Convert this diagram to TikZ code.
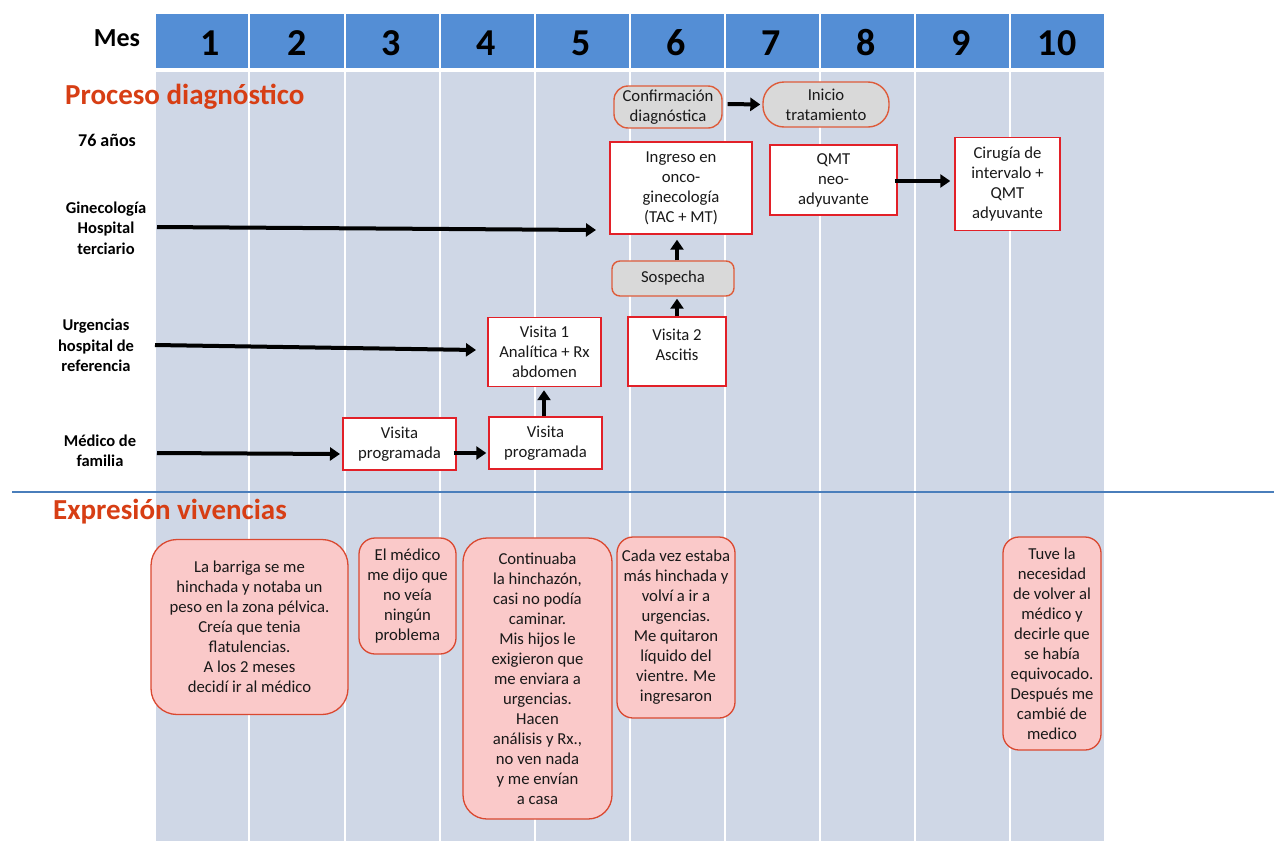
\documentclass[tikz,border=0pt]{standalone}
\usepackage{fontspec}
\setmainfont{Carlito}
\usetikzlibrary{arrows.meta,calc}
\definecolor{hdrblue}{RGB}{84,142,213}
\definecolor{bodyblue}{RGB}{207,215,230}
\definecolor{boxred}{RGB}{226,32,40}
\definecolor{grayfill}{RGB}{217,217,217}
\definecolor{gborder}{RGB}{222,92,58}
\definecolor{pinkfill}{RGB}{250,201,201}
\definecolor{pborder}{RGB}{218,72,48}
\definecolor{titlered}{RGB}{215,62,20}
\definecolor{sepblue}{RGB}{74,126,187}
\definecolor{textdark}{RGB}{25,25,25}
\begin{document}
\begin{tikzpicture}[x=1pt,y=-1pt,
  body/.style={font=\fontsize{16.7}{20}\selectfont, text=textdark, align=center, inner sep=0pt},
  rbox/.style={body, draw=boxred, line width=1.4pt, fill=white},
  gbox/.style={body, draw=gborder, line width=1.4pt, fill=grayfill},
  pbox/.style={body, draw=pborder, line width=1.3pt, fill=pinkfill},
  lbl/.style={font=\bfseries\fontsize{16.5}{20.5}\selectfont, align=center, inner sep=0pt},
  num/.style={font=\bfseries\fontsize{38}{40}\selectfont, inner sep=0pt},
  ttl/.style={font=\bfseries\fontsize{29}{32}\selectfont, text=titlered, inner sep=0pt, anchor=west},
  arr/.style={line width=4pt, -{Triangle[length=10pt,width=13pt]}}
]
\useasboundingbox (0,0) rectangle (1274,841);
\fill[white] (0,0) rectangle (1274,841);
% grid
\foreach \a/\b in {155/249,249/345,345/440,440/535,535/630,630/725,725/820,820/915,915/1010,1010/1105}{
  \fill[hdrblue] (\a+1,14) rectangle (\b-1,68);
  \fill[bodyblue] (\a+1,72) rectangle (\b-1,841);
}
% header
\node[font=\bfseries\fontsize{26}{28}\selectfont, inner sep=0pt] (mes) at (117,38) {Mes};
\foreach \x/\n in {210/1,297/2,391/3,486/4,581/5,676/6,771/7,866/8,961/9,1057/10}{
  \node[num] (h\n) at (\x,43) {\n};
}
% titles
\node[ttl] (t1) at (65,97) {Proceso diagnóstico};
\node[ttl] (t2) at (53,512) {Expresión vivencias};
% separator
\coordinate (s1) at (12,492);
\coordinate (s2) at (1274,492);
\draw[sepblue, line width=1.5pt] (s1) -- (s2);
% row labels
\node[font=\bfseries\fontsize{18}{20}\selectfont, inner sep=0pt] (age) at (107,140) {76 años};
\node[lbl] (gin) at (106,228) {Ginecología\\Hospital\\terciario};
\node[lbl] (urg) at (96,345.5) {Urgencias\\hospital de\\referencia};
\node[lbl] (med) at (100,451) {Médico de\\familia};
% process boxes
\node[rbox, minimum width=113pt, minimum height=52pt] (vp1) at (399.5,444) {Visita\\programada};
\node[rbox, minimum width=113pt, minimum height=52pt] (vp2) at (545.5,443) {Visita\\programada};
\node[rbox, minimum width=113pt, minimum height=69pt] (v1) at (544.5,352) {Visita 1\\Analítica + Rx\\abdomen};
\node[rbox, minimum width=98pt, minimum height=69pt] (v2) at (677,351.5) {};
\node[body] (v2t) at (677,345) {Visita 2\\Ascitis};
\node[gbox, rounded corners=8pt, minimum width=122pt, minimum height=35pt] (sosp) at (673,278.5) {Sospecha};
\node[rbox, minimum width=142pt, minimum height=92pt] (ing) at (681,188) {Ingreso en\\onco-\\ginecología\\(TAC + MT)};
\node[gbox, rounded corners=14pt, minimum width=108pt, minimum height=42pt] (conf) at (668,107) {Confirmación\\diagnóstica};
\node[gbox, rounded corners=21pt, minimum width=126pt, minimum height=45pt] (ini) at (826,104.5) {Inicio\\tratamiento};
\node[rbox, minimum width=127pt, minimum height=70pt] (qmt) at (833.5,180) {QMT\\neo-\\adyuvante};
\node[rbox, minimum width=105pt, minimum height=93pt] (cir) at (1007.5,184) {Cirugía de\\intervalo +\\QMT\\adyuvante};
% arrows
\coordinate (ga) at (157,227);
\coordinate (gb) at (596,230);
\draw[arr] (ga) -- (gb);
\coordinate (ua) at (155,345);
\coordinate (ub) at (476,350);
\draw[arr] (ua) -- (ub);
\coordinate (ma) at (157,453);
\coordinate (mb) at (340,454);
\draw[arr] (ma) -- (mb);
\draw[arr] ($(vp1.east)+(-3,9)$) -- ($(vp2.west)+(-2,10)$);
\draw[arr] (vp2.north -| 544,0) -- ($(v1.south -| 544,0)+(0,3)$);
\draw[arr] (v2.north) -- ($(v2.north |- sosp.south)+(0,2)$);
\draw[arr] (sosp.north -| 677,0) -- ($(ing.south -| 677,0)+(0,5)$);
\draw[arr] ($(conf.east)+(5,-3)$) -- ($(ini.west)+(-2,0)$);
\draw[arr] ($(qmt.east)+(-3,1)$) -- ($(qmt.east -| cir.west)+(-4,1)$);
% experience boxes
\node[pbox, rounded corners=26pt, minimum width=197pt, minimum height=175pt] (e1) at (249.5,627) {La barriga se me\\hinchada y notaba un\\peso en la zona pélvica.\\Creía que tenia\\flatulencias.\\A los 2 meses\\decidí ir al médico};
\node[pbox, rounded corners=16pt, minimum width=97pt, minimum height=116pt] (e2) at (407.5,596) {El médico\\me dijo que\\no veía\\ningún\\problema};
\node[pbox, rounded corners=24pt, minimum width=149pt, minimum height=281pt] (e3) at (537.5,678.5) {Continuaba\\la hinchazón,\\casi no podía\\caminar.\\Mis hijos le\\exigieron que\\me enviara a\\urgencias.\\Hacen\\análisis y Rx.,\\no ven nada\\y me envían\\a casa};
\node[pbox, rounded corners=16pt, minimum width=118pt, minimum height=181pt] (e4) at (676,627.5) {Cada vez estaba\\más hinchada y\\volví a ir a\\urgencias.\\Me quitaron\\líquido del\\vientre. Me\\ingresaron};
\node[pbox, rounded corners=16pt, minimum width=98pt, minimum height=213pt] (e5) at (1052,643.5) {Tuve la\\necesidad\\de volver al\\médico y\\decirle que\\se había\\equivocado.\\Después me\\cambié de\\medico};
\end{tikzpicture}
\end{document}
